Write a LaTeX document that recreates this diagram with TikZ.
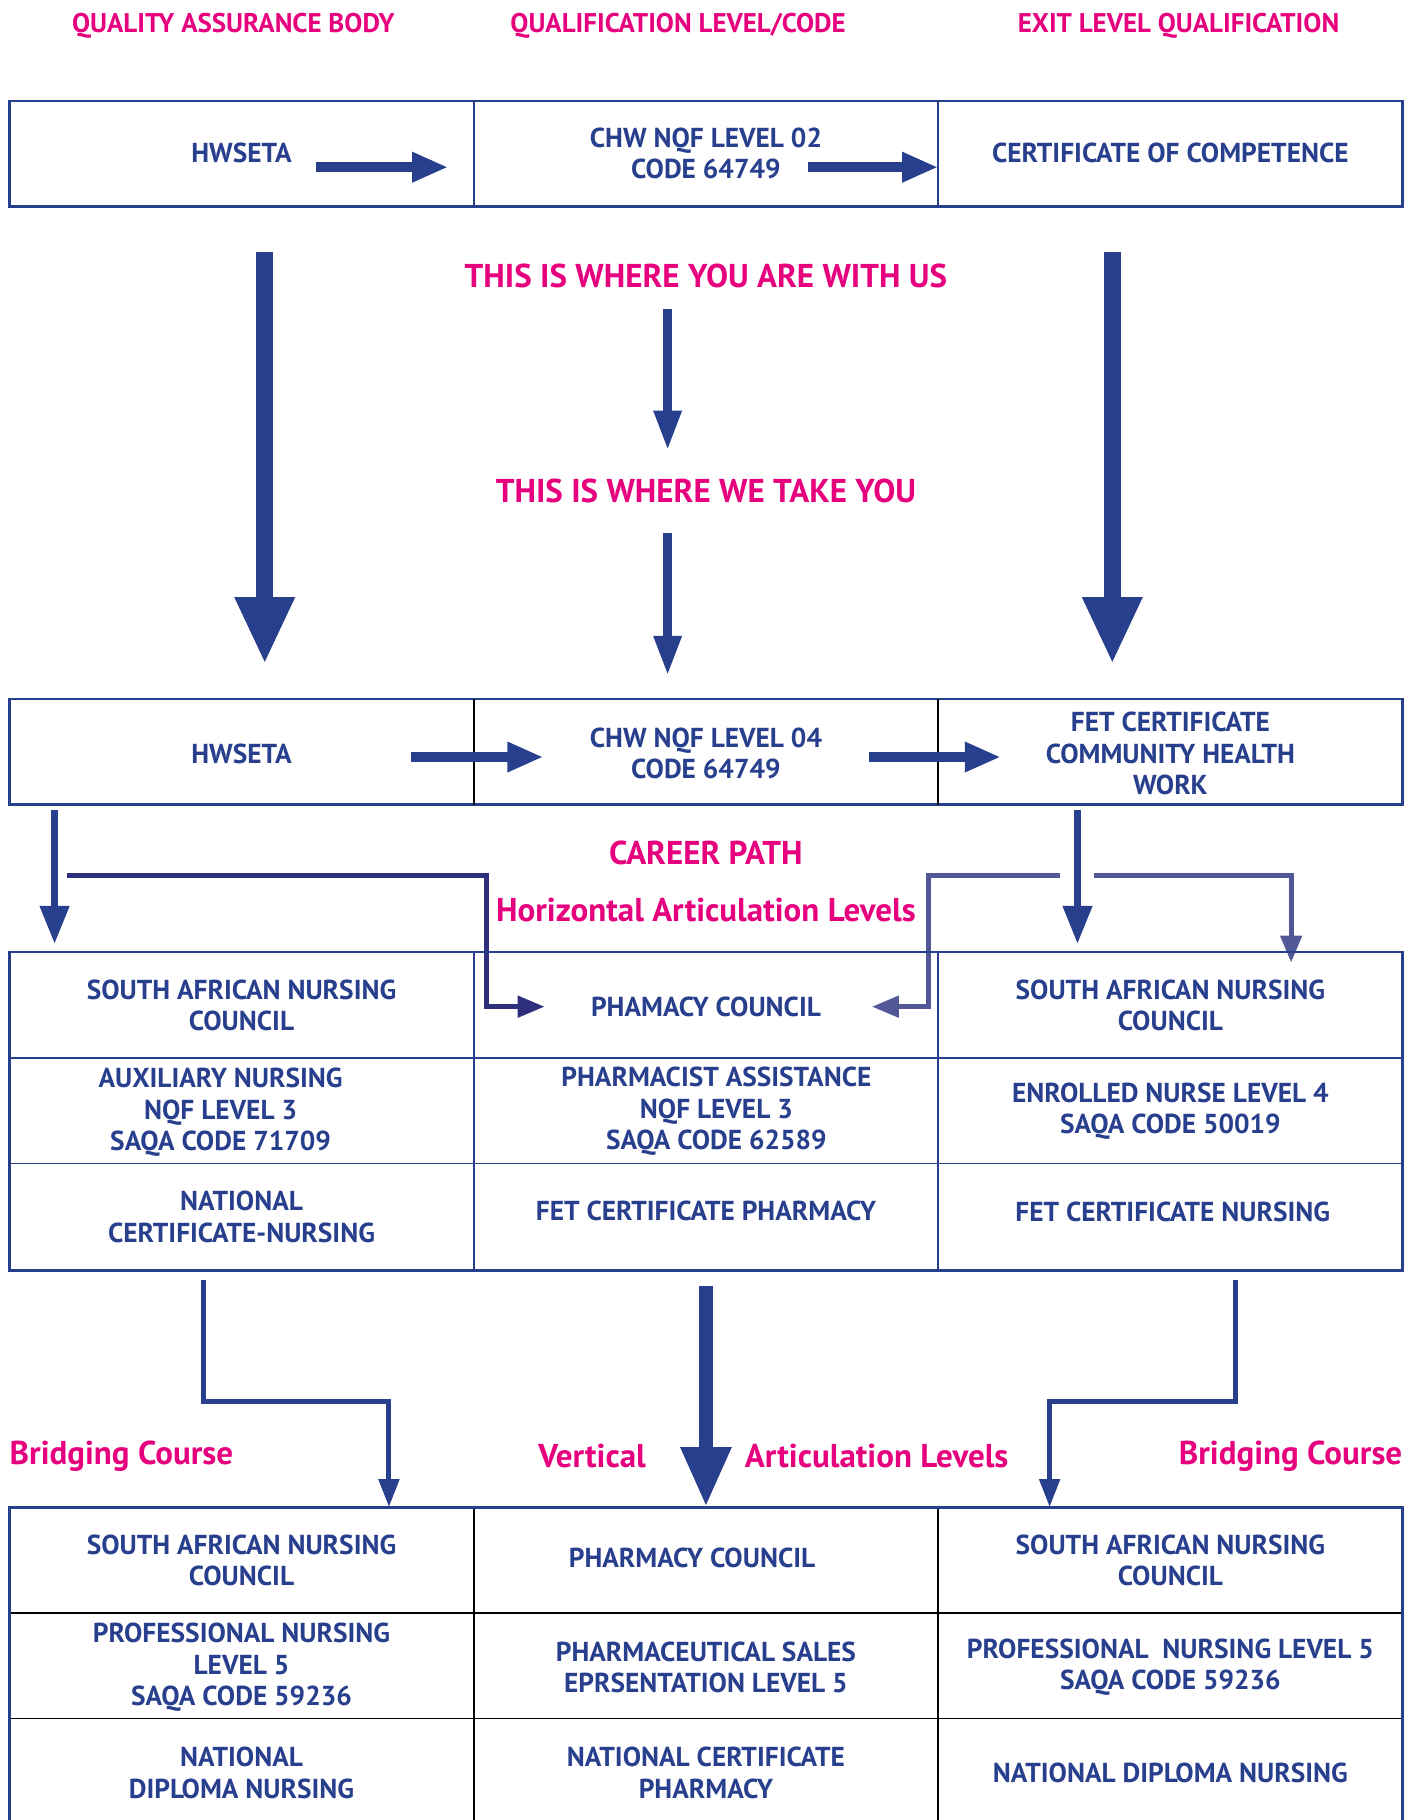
\documentclass[tikz,border=0pt]{standalone}
\usepackage{fontspec}
\setmainfont{PT Sans}
\usetikzlibrary{arrows.meta}
\definecolor{nblue}{HTML}{283F8E}
\definecolor{mag}{HTML}{E6007E}
\definecolor{navy}{HTML}{2E2F7C}
\definecolor{lav}{HTML}{525895}
\begin{document}
\begin{tikzpicture}[x=0.58058pt,y=-0.58058pt,
  cell/.style={font=\bfseries\fontsize{13.7}{15.6}\selectfont, text=nblue, align=center, inner sep=0pt},
  hdr/.style={font=\bfseries\fontsize{13.5}{14}\selectfont, text=mag, inner sep=0pt},
  bigt/.style={font=\bfseries\fontsize{16.5}{18}\selectfont, text=mag, inner sep=0pt},
  border/.style={draw=nblue, line width=1.4pt},
  inblue/.style={draw=nblue, line width=0.9pt},
  inblack/.style={draw=black, line width=0.9pt},
  harrow/.style={draw=nblue, line width=4.7pt, -{Triangle[length=18pt,width=14pt]}},
  bigarrow/.style={draw=nblue, line width=8.7pt, -{Triangle[length=33.5pt,width=27.7pt]}},
  midarrow/.style={draw=nblue, line width=4.6pt, -{Triangle[length=20pt,width=13pt]}},
  smarrow/.style={draw=nblue, line width=3.6pt, -{Triangle[length=19pt,width=14pt]}},
  conn/.style={line width=2.5pt, -{Triangle[length=13.5pt,width=10.5pt]}},
  vconn/.style={draw=nblue, line width=2.5pt, -{Triangle[length=14pt,width=10pt]}},
  cenarrow/.style={draw=nblue, line width=7.2pt, -{Triangle[length=30pt,width=23.5pt]}}
]
\useasboundingbox (0,0) rectangle (1210,1567.5);
% ---------- headers ----------
\node[hdr] (h1) at (201,22) {QUALITY ASSURANCE BODY};
\node[hdr] (h2) at (584,22) {QUALIFICATION LEVEL/CODE};
\node[hdr] (h3) at (1015,22) {EXIT LEVEL QUALIFICATION};
% ---------- row 1 ----------
\draw[border] (8,87) rectangle (1208,178);
\draw[inblue] (408,87) -- (408,178);
\draw[inblue] (808,87) -- (808,178);
\node[cell] (a1) at (208,132) {HWSETA};
\node[cell] (a2) at (608,132) {CHW NQF LEVEL 02\\CODE 64749};
\node[cell] (a3) at (1008,132) {CERTIFICATE OF COMPETENCE};
\coordinate (a1s) at (272,144); \coordinate (a1e) at (386,144);
\coordinate (a2s) at (696,144); \coordinate (a2e) at (808,144);
\draw[harrow] (a1s) -- (a1e);
\draw[harrow] (a2s) -- (a2e);
% ---------- middle ----------
\coordinate (bl1) at (228,217); \coordinate (bl2) at (228,572);
\coordinate (br1) at (958,217); \coordinate (br2) at (958,572);
\draw[bigarrow] (bl1) -- (bl2);
\draw[bigarrow] (br1) -- (br2);
\node[bigt] (t1) at (608,238) {THIS IS WHERE YOU ARE WITH US};
\node[bigt] (t2) at (608,423) {THIS IS WHERE WE TAKE YOU};
\coordinate (m1s) at (575,266); \coordinate (m1e) at (575,388);
\coordinate (m2s) at (575,459); \coordinate (m2e) at (575,582);
\draw[midarrow] (m1s) -- (m1e);
\draw[midarrow] (m2s) -- (m2e);
% ---------- row 2 ----------
\draw[border] (8,602) rectangle (1208,693);
\draw[inblack] (408,602) -- (408,693);
\draw[inblack] (808,602) -- (808,693);
\node[cell] (b1) at (208,649) {HWSETA};
\node[cell] (b2) at (608,649) {CHW NQF LEVEL 04\\CODE 64749};
\node[cell] (b3) at (1008,649) {FET CERTIFICATE\\COMMUNITY HEALTH\\WORK};
\coordinate (b1s) at (354,652); \coordinate (b1e) at (468,652);
\coordinate (b2s) at (748,652); \coordinate (b2e) at (862,652);
\draw[harrow] (b1s) -- (b1e);
\draw[harrow] (b2s) -- (b2e);
% ---------- career path ----------
\node[bigt] (cp) at (608,735) {CAREER PATH};
\node[bigt] (hal) at (608,784) {Horizontal Articulation Levels};
\coordinate (la1) at (47,698); \coordinate (la2) at (47,813);
\draw[smarrow] (la1) -- (la2);
\coordinate (ra1) at (928,698); \coordinate (ra2) at (928,813);
\draw[smarrow] (ra1) -- (ra2);
\coordinate (nv1) at (58,754); \coordinate (nv2) at (419,754);
\coordinate (nv3) at (419,867); \coordinate (nv4) at (469,867);
\draw[conn, draw=navy] (nv1) -- (nv2) -- (nv3) -- (nv4);
\coordinate (lv1) at (913,754); \coordinate (lv2) at (800,754);
\coordinate (lv3) at (800,867); \coordinate (lv4) at (751,867);
\draw[conn, draw=lav] (lv1) -- (lv2) -- (lv3) -- (lv4);
\coordinate (lw1) at (942,754); \coordinate (lw2) at (1112,754);
\coordinate (lw3) at (1112,829);
\draw[conn, draw=lav] (lw1) -- (lw2) -- (lw3);
% ---------- row 3 block ----------
\draw[border] (8,820) rectangle (1208,1094);
\draw[inblue] (408,820) -- (408,1094);
\draw[inblue] (808,820) -- (808,1094);
\draw[inblue] (8,911) -- (1208,911);
\draw[inblue] (8,1002) -- (1208,1002);
\node[cell] (c11) at (208,866) {SOUTH AFRICAN NURSING\\COUNCIL};
\node[cell] (c12) at (608,867) {PHAMACY COUNCIL};
\node[cell] (c13) at (1008,866) {SOUTH AFRICAN NURSING\\COUNCIL};
\node[cell] (c21) at (190,958) {AUXILIARY NURSING\\NQF LEVEL 3\\SAQA CODE 71709};
\node[cell] (c22) at (617,957) {PHARMACIST ASSISTANCE\\NQF LEVEL 3\\SAQA CODE 62589};
\node[cell] (c23) at (1008,957) {ENROLLED NURSE LEVEL 4\\SAQA CODE 50019};
\node[cell] (c31) at (208,1048) {NATIONAL\\CERTIFICATE-NURSING};
\node[cell] (c32) at (608,1043) {FET CERTIFICATE PHARMACY};
\node[cell] (c33) at (1010,1044) {FET CERTIFICATE NURSING};
% ---------- vertical articulation ----------
\coordinate (p1) at (175,1102); \coordinate (p2) at (175,1207);
\coordinate (p3) at (335,1207); \coordinate (p4) at (335,1298);
\draw[vconn] (p1) -- (p2) -- (p3) -- (p4);
\coordinate (q1) at (1064,1102); \coordinate (q2) at (1064,1207);
\coordinate (q3) at (904,1207); \coordinate (q4) at (904,1298);
\draw[vconn] (q1) -- (q2) -- (q3) -- (q4);
\coordinate (v1) at (608,1108); \coordinate (v2) at (608,1298);
\draw[cenarrow] (v1) -- (v2);
\node[bigt, anchor=west] (bc1) at (8,1254) {Bridging Course};
\node[bigt] (vt) at (510,1254) {Vertical};
\node[bigt] (al) at (755,1254) {Articulation Levels};
\node[bigt, anchor=east] (bc2) at (1208,1254) {Bridging Course};
% ---------- bottom block ----------
\draw[inblack] (8,1389) -- (1208,1389);
\draw[inblack] (8,1480) -- (1208,1480);
\draw[inblack] (408,1298) -- (408,1568);
\draw[inblack] (808,1298) -- (808,1568);
\draw[border] (8,1568) -- (8,1298) -- (1208,1298) -- (1208,1568);
\node[cell] (d11) at (208,1344) {SOUTH AFRICAN NURSING\\COUNCIL};
\node[cell] (d12) at (596,1342) {PHARMACY COUNCIL};
\node[cell] (d13) at (1008,1344) {SOUTH AFRICAN NURSING\\COUNCIL};
\node[cell] (d21) at (208,1436) {PROFESSIONAL NURSING\\LEVEL 5\\SAQA CODE 59236};
\node[cell] (d22) at (608,1436) {PHARMACEUTICAL SALES\\EPRSENTATION LEVEL 5};
\node[cell] (d23) at (1008,1436) {PROFESSIONAL\ \ NURSING LEVEL 5\\SAQA CODE 59236};
\node[cell] (d31) at (208,1527) {NATIONAL\\DIPLOMA NURSING};
\node[cell] (d32) at (608,1527) {NATIONAL CERTIFICATE\\PHARMACY};
\node[cell] (d33) at (1008,1527) {NATIONAL DIPLOMA NURSING};
\end{tikzpicture}
\end{document}
